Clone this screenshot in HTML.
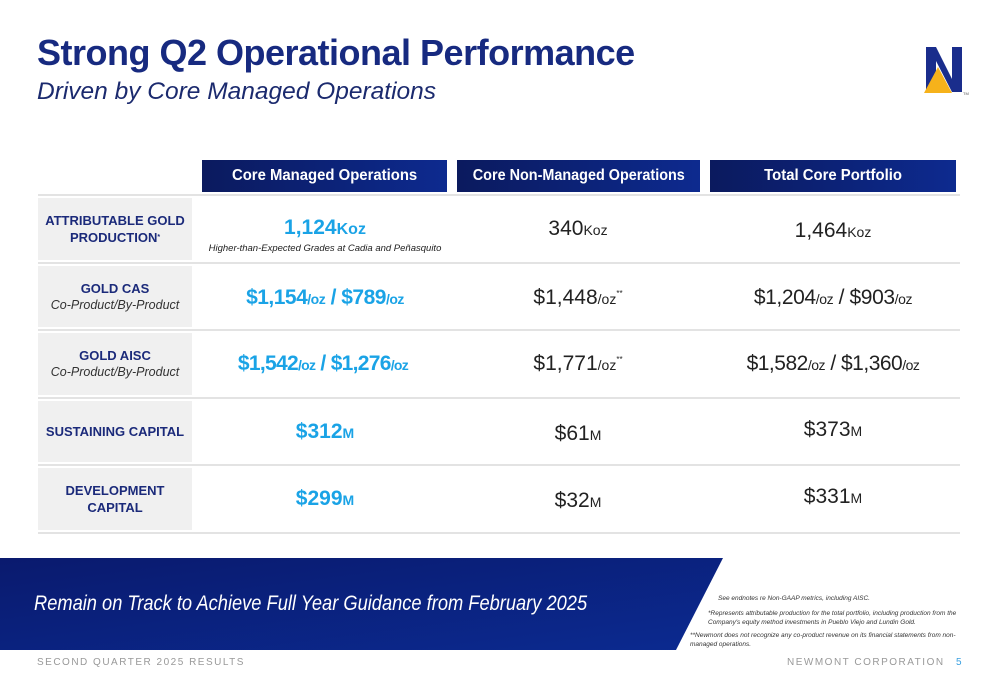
<!DOCTYPE html>
<html><head><meta charset="utf-8"><style>
body{margin:0;width:1000px;height:685px;position:relative;background:#fff;font-family:"Liberation Sans",sans-serif;overflow:hidden}
.a{position:absolute}
.hdr{position:absolute;top:160px;height:32px;background:linear-gradient(90deg,#0b1a5e,#0d2a8f);color:#fff;font-weight:bold;font-size:16px;line-height:32px;text-align:center;white-space:nowrap}
.hdr span{display:inline-block;transform:scaleX(0.93)}
.lab{position:absolute;left:38px;width:154px;background:#f0f0f0;color:#1b2a7a;font-weight:bold;font-size:13px;text-align:center;display:flex;flex-direction:column;justify-content:center;line-height:17px}
.lab i{font-weight:normal;color:#333;font-size:12.5px}
.sep{position:absolute;left:38px;width:922px;height:2px;background:#e3e3e3}
.v{position:absolute;width:250px;text-align:center;font-size:21px;color:#222;white-space:nowrap}
.b{color:#1aa3e6;font-weight:bold}
.s{font-size:14px}
</style></head><body>
<div class="a" style="left:37px;top:32px;font-size:36px;font-weight:bold;color:#172a80;letter-spacing:-0.5px">Strong Q2 Operational Performance</div>
<div class="a" style="left:37px;top:78px;font-size:24.5px;font-style:italic;color:#1b2a6e">Driven by Core Managed Operations</div>
<svg class="a" style="left:922px;top:45px" width="50" height="52" viewBox="0 0 50 52"><polygon points="4,2 14,2 30,34 30,2 40,2 40,47 30,47 14,16 14,47 4,47" fill="#1a2d8c"/><polygon points="2,48 16,22 30,48" fill="#f6b21b"/><text x="41" y="50" font-size="4" fill="#555">TM</text></svg>

<div class="hdr" style="left:202px;width:245px"><span>Core Managed Operations</span></div>
<div class="hdr" style="left:457px;width:243px"><span style="transform:scaleX(0.9)">Core Non-Managed Operations</span></div>
<div class="hdr" style="left:710px;width:246px"><span>Total Core Portfolio</span></div>

<div class="sep" style="top:194px"></div>
<div class="sep" style="top:262px"></div>
<div class="sep" style="top:329px"></div>
<div class="sep" style="top:397px"></div>
<div class="sep" style="top:464px"></div>
<div class="sep" style="top:532px"></div>

<div class="lab" style="top:198px;height:62px"><div>ATTRIBUTABLE GOLD</div><div>PRODUCTION<span style="font-size:7px;vertical-align:top">*</span></div></div>
<div class="lab" style="top:266px;height:61px">GOLD CAS<i>Co-Product/By-Product</i></div>
<div class="lab" style="top:333px;height:62px">GOLD AISC<i>Co-Product/By-Product</i></div>
<div class="lab" style="top:401px;height:61px">SUSTAINING CAPITAL</div>
<div class="lab" style="top:468px;height:62px">DEVELOPMENT<br>CAPITAL</div>

<div class="v b" style="left:200px;top:216px">1,124<span style="font-size:16px">Koz</span></div>
<div class="a" style="left:200px;top:243px;width:250px;text-align:center;font-size:9.5px;font-style:italic;color:#222">Higher-than-Expected Grades at Cadia and Peñasquito</div>
<div class="v" style="left:453px;top:217px">340<span class="s">Koz</span></div>
<div class="v" style="left:708px;top:219px">1,464<span class="s">Koz</span></div>

<div class="v b" style="left:200px;top:286px;letter-spacing:-0.5px">$1,154<span class="s">/oz</span> / $789<span class="s">/oz</span></div>
<div class="v" style="left:453px;top:286px">$1,448<span class="s">/oz</span><sup style="font-size:8px">**</sup></div>
<div class="v" style="left:708px;top:286px;letter-spacing:-0.4px">$1,204<span class="s">/oz</span> / $903<span class="s">/oz</span></div>

<div class="v b" style="left:198px;top:352px;letter-spacing:-0.7px">$1,542<span class="s">/oz</span> / $1,276<span class="s">/oz</span></div>
<div class="v" style="left:453px;top:352px">$1,771<span class="s">/oz</span><sup style="font-size:8px">**</sup></div>
<div class="v" style="left:708px;top:352px;letter-spacing:-0.5px">$1,582<span class="s">/oz</span> / $1,360<span class="s">/oz</span></div>

<div class="v b" style="left:200px;top:420px">$312<span class="s">M</span></div>
<div class="v" style="left:453px;top:422px">$61<span class="s">M</span></div>
<div class="v" style="left:708px;top:418px">$373<span class="s">M</span></div>

<div class="v b" style="left:200px;top:487px">$299<span class="s">M</span></div>
<div class="v" style="left:453px;top:489px">$32<span class="s">M</span></div>
<div class="v" style="left:708px;top:485px">$331<span class="s">M</span></div>

<svg class="a" style="left:0;top:557px" width="760" height="95"><defs><linearGradient id="g" x1="0" y1="0" x2="1" y2="1"><stop offset="0" stop-color="#0a1a6e"/><stop offset="1" stop-color="#0b2a90"/></linearGradient></defs><polygon points="0,1 723,1 676,93 0,93" fill="url(#g)"/></svg>
<div class="a" style="left:34px;top:592px;font-size:21px;font-style:italic;color:#fff;white-space:nowrap;transform:scaleX(0.87);transform-origin:left top">Remain on Track to Achieve Full Year Guidance from February 2025</div>

<div class="a" style="left:690px;top:594px;width:270px;font-size:6.5px;font-style:italic;color:#333;line-height:9px">
<div style="padding-left:28px">See endnotes re Non-GAAP metrics, including AISC.</div>
<div style="padding-left:18px;margin-top:6px">*Represents attributable production for the total portfolio, including production from the Company's equity method investments in Pueblo Viejo and Lundin Gold.</div>
<div style="margin-top:4px">**Newmont does not recognize any co-product revenue on its financial statements from non-managed operations.</div>
</div>

<div class="a" style="left:37px;top:657px;font-size:10px;letter-spacing:1.5px;color:#999">SECOND QUARTER 2025 RESULTS</div>
<div class="a" style="left:787px;top:657px;font-size:10px;letter-spacing:1.5px;color:#999">NEWMONT CORPORATION</div>
<div class="a" style="left:956px;top:657px;font-size:10px;color:#3aa0e0">5</div>
</body></html>
